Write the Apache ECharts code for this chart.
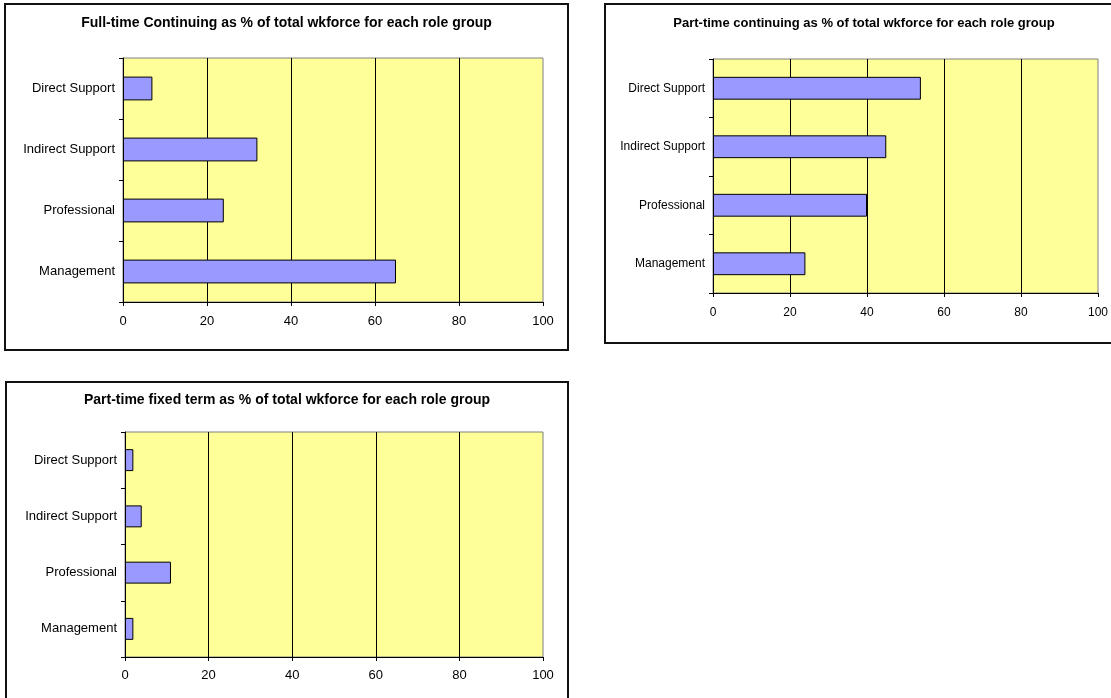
<!DOCTYPE html>
<html>
<head>
<meta charset="utf-8">
<script src="https://cdn.jsdelivr.net/npm/echarts@6/dist/echarts.min.js"></script>
<style>
  html, body { margin: 0; padding: 0; background: #fff; width: 1111px; height: 698px; overflow: hidden; position: relative; }
  .box { position: absolute; box-sizing: border-box; border: 2px solid #111; background: #fff; }
</style>
</head>
<body>
<div id="c1" class="box" style="left:4px; top:3px; width:565px; height:348px;"></div>
<div id="c2" class="box" style="left:604px; top:3px; width:520px; height:341px;"></div>
<div id="c3" class="box" style="left:5px; top:381px; width:564px; height:330px;"></div>
<script>
// ---- data ----
const categories = ['Direct Support', 'Indirect Support', 'Professional', 'Management'];
const fullTimeContinuing = [7, 32, 24, 65];
const partTimeContinuing = [54, 45, 40, 24];
const partTimeFixedTerm = [2, 4, 11, 2];
const xTicks = [0, 20, 40, 60, 80, 100];
const titles = [
  'Full-time Continuing as % of total wkforce for each role group',
  'Part-time continuing as % of total wkforce for each role group',
  'Part-time fixed term as % of total wkforce for each role group'
];

const FONT = "'Liberation Sans', Arial, sans-serif";

function makeOption(title, values, grid, titleFs, fs, titleTop, xMargin) {
  return {
    animation: false,
    title: {
      text: title,
      left: 'center',
      top: titleTop,
      padding: 0,
      textStyle: { fontFamily: FONT, fontSize: titleFs, fontWeight: 'bold', color: '#000' }
    },
    grid: Object.assign({
      show: true,
      backgroundColor: '#FFFF99',
      borderColor: '#808080',
      borderWidth: 1
    }, grid),
    xAxis: {
      type: 'value',
      min: xTicks[0],
      max: xTicks[xTicks.length - 1],
      interval: xTicks[1] - xTicks[0],
      axisLine: { show: true, lineStyle: { color: '#000', width: 1 } },
      axisTick: { show: true, length: 4, lineStyle: { color: '#000' } },
      axisLabel: { color: '#000', fontFamily: FONT, fontSize: fs, margin: xMargin },
      splitLine: { show: true, showMinLine: false, showMaxLine: false, lineStyle: { color: '#000', width: 1 } }
    },
    yAxis: {
      type: 'category',
      data: categories,
      inverse: true,
      axisLine: { show: true, lineStyle: { color: '#000', width: 1 } },
      axisTick: { show: true, length: 4, alignWithLabel: false, lineStyle: { color: '#000' } },
      axisLabel: { color: '#000', fontFamily: FONT, fontSize: fs, margin: 8 },
      splitLine: { show: false }
    },
    series: [{
      type: 'bar',
      data: values,
      barWidth: '39%',
      itemStyle: { color: '#9999FF', borderColor: '#000', borderWidth: 1 }
    }]
  };
}

const c1 = echarts.init(document.getElementById('c1'));
c1.setOption(makeOption(titles[0], fullTimeContinuing,
  { left: 117, top: 53, width: 420, height: 244 }, 14, 13, 11, 13));

const c2 = echarts.init(document.getElementById('c2'));
c2.setOption(makeOption(titles[1], partTimeContinuing,
  { left: 107, top: 54, width: 385, height: 234 }, 13, 12, 12, 14));

const c3 = echarts.init(document.getElementById('c3'));
c3.setOption(makeOption(titles[2], partTimeFixedTerm,
  { left: 118, top: 49, width: 418, height: 225 }, 14, 13, 10, 12));
</script>
</body>
</html>
